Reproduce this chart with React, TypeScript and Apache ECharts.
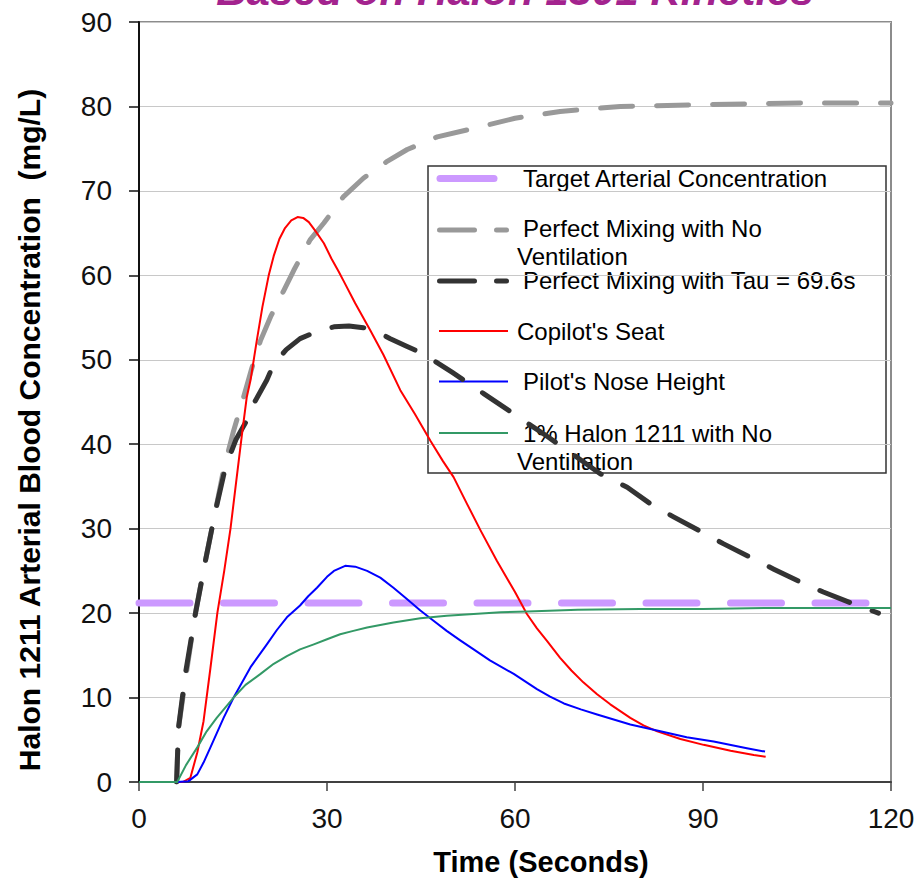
import React, { useEffect, useRef } from "react";
import * as echarts from "echarts";

// ---- data (time in seconds, concentration in mg/L) ----
const xTicks = [0, 30, 60, 90, 120];
const seriesNames = [
  "Target Arterial Concentration",
  "Perfect Mixing with No Ventilation",
  "Perfect Mixing with Tau = 69.6s",
  "Copilot's Seat",
  "Pilot's Nose Height",
  "1% Halon 1211 with No Ventillation",
];

const targetLevel: number[][] = [
  [0, 21.2],
  [120, 21.2],
];

const noVentilation: number[][] = [
  [6, 0], [6.3, 6.4], [7.7, 13.6], [9, 20], [10.6, 26.2], [12.2, 32.1], [13.5, 37],
  [15.1, 41.6], [16.7, 45.6], [18, 49], [19.4, 52.3], [21, 55.1], [23.1, 58.2], [24.7, 60.6],
  [27.3, 64.2], [29.5, 66.2], [32.6, 69.3], [35.8, 71.5], [39.6, 73.5], [42.8, 74.9],
  [47.6, 76.4], [54.5, 77.6], [60, 78.6], [67.2, 79.4], [76.8, 80.0], [89.6, 80.2],
  [105.6, 80.4], [120, 80.4],
];

const tauMixing: number[][] = [
  [6, 0], [6.3, 6.4], [7.4, 12.8], [9, 19.9], [10.6, 26.2], [12.2, 32.1], [13.8, 37.3],
  [15.5, 40.6], [17.5, 43.2], [18.3, 44.8], [20.4, 47.6], [21.5, 49.5], [23.5, 51.2],
  [25.7, 52.5], [28.5, 53.4], [31.1, 53.9], [33.5, 54], [35.8, 53.8], [38, 53.3],
  [40.1, 52.5], [42.7, 51.6], [45.4, 50.7], [50, 48.5], [55, 46], [60, 43.5], [65, 41],
  [70, 38.4], [73.6, 36.5], [77.9, 34.9], [81.5, 33], [85.3, 31.4], [89.3, 29.8],
  [93.3, 28.2], [97.3, 26.7], [101.3, 25.2], [105.2, 23.8], [109.2, 22.5], [113.6, 21.2],
  [118, 20],
];

const copilotSeat: number[][] = [
  [0, 0], [7, 0], [8.2, 0.5], [9.3, 3.5], [10.3, 7.2], [11.4, 13.5], [12.5, 20],
  [13.6, 25], [14.6, 30], [15.5, 35.5], [16.4, 41], [17.2, 45.6], [17.8, 47.6],
  [18.8, 52.3], [19.7, 56.3], [20.7, 60], [21.5, 62.3], [22.4, 64.3], [23.3, 65.6],
  [24.3, 66.5], [25.3, 66.9], [26.2, 66.8], [27.1, 66.3], [28.2, 65.2], [29.5, 63.8],
  [30.7, 62], [31.9, 60.4], [32.6, 59.4], [34.5, 56.7], [36.9, 53.5],
  [39, 50.6], [41.7, 46.4], [44, 43.6], [46.5, 40.4], [48.5, 38], [50.2, 36.1],
  [52.3, 33], [54.5, 29.8], [57.1, 26.2], [60, 22.5], [61.9, 19.9], [63.5, 18.2],
  [65.1, 16.7], [67.2, 14.7], [69, 13.2], [70.9, 11.8], [73.1, 10.4], [75.2, 9.2],
  [78.4, 7.6], [80.5, 6.7], [82.7, 6.0], [86.4, 5.1], [90.1, 4.4], [94.4, 3.7],
  [98.1, 3.2], [100, 3.0],
];

const pilotNose: number[][] = [
  [0, 0], [6.1, 0], [7.9, 0.1], [9.3, 0.9], [10.3, 2.3], [11.4, 4.1], [13.5, 7.6],
  [15.1, 10], [17.8, 13.6], [20.4, 16.3], [22, 18], [23.6, 19.5], [25.7, 20.9],
  [27, 22], [28.4, 23], [30, 24.3], [31.1, 25], [32.9, 25.6], [34.5, 25.5], [36.4, 25],
  [38.5, 24.2], [40.6, 23], [42.7, 21.7], [44.9, 20.3], [47, 19.1], [49.1, 17.9],
  [51.2, 16.8], [53.4, 15.7], [56, 14.4], [59.8, 12.8], [63.5, 11], [65.6, 10.1], [67.8, 9.3],
  [70.5, 8.6], [73.1, 8.0], [78.4, 6.8], [83.2, 6.0], [87.4, 5.3], [91.7, 4.8],
  [97, 4.0], [99.9, 3.6],
];

const halonNoVent: number[][] = [
  [0, 0], [6.1, 0], [7.5, 2], [9.3, 4.1], [10.8, 6], [12.4, 7.6], [15.1, 10], [17, 11.5],
  [19.4, 12.8], [21.5, 14], [23.6, 14.9], [25.7, 15.7], [27.9, 16.3], [30, 16.9],
  [32.1, 17.5], [34.2, 17.9], [36.4, 18.3], [40.6, 18.9], [44.9, 19.4], [49.1, 19.7],
  [53.4, 19.9], [57.7, 20.1], [62, 20.2], [70, 20.4], [80, 20.5], [90, 20.5],
  [100, 20.6], [110, 20.6], [120, 20.6],
];

const FONT = "'Liberation Sans', Arial, sans-serif";

export default function App() {
  const ref = useRef<HTMLDivElement>(null);

  useEffect(() => {
    if (!ref.current) return;
    const chart = echarts.init(ref.current, null, { renderer: "svg" });

    const legendX = 428;
    const legendY = 166;
    const rowY = [178.5, 228.5, 280, 331, 381.5, 433];
    const lineStart = 439;
    const lineEnd = 508;

    const legendItems: any[] = [
      {
        type: "rect",
        shape: { x: legendX, y: legendY, width: 458, height: 307 },
        style: { fill: "#fff", stroke: "#333", lineWidth: 1.5 },
      },
      {
        type: "line",
        shape: { x1: 440, y1: rowY[0], x2: 494, y2: rowY[0] },
        style: { stroke: "#CC99FF", lineWidth: 7, lineCap: "round" },
      },
      {
        type: "line",
        shape: { x1: 439.5, y1: rowY[1] + 1.5, x2: 474.5, y2: rowY[1] + 1.5 },
        style: { stroke: "#999999", lineWidth: 5, lineCap: "round" },
      },
      {
        type: "line",
        shape: { x1: 496.5, y1: rowY[1] + 1.5, x2: 506.5, y2: rowY[1] + 1.5 },
        style: { stroke: "#999999", lineWidth: 5, lineCap: "round" },
      },
      {
        type: "line",
        shape: { x1: 439.5, y1: rowY[2] + 1, x2: 474.5, y2: rowY[2] + 1 },
        style: { stroke: "#333333", lineWidth: 5, lineCap: "round" },
      },
      {
        type: "line",
        shape: { x1: 496.5, y1: rowY[2] + 1, x2: 506.5, y2: rowY[2] + 1 },
        style: { stroke: "#333333", lineWidth: 5, lineCap: "round" },
      },
      {
        type: "line",
        shape: { x1: lineStart, y1: rowY[3], x2: lineEnd, y2: rowY[3] },
        style: { stroke: "#FF0000", lineWidth: 2 },
      },
      {
        type: "line",
        shape: { x1: lineStart, y1: rowY[4], x2: lineEnd, y2: rowY[4] },
        style: { stroke: "#0000FF", lineWidth: 2 },
      },
      {
        type: "line",
        shape: { x1: lineStart, y1: rowY[5], x2: lineEnd, y2: rowY[5] },
        style: { stroke: "#339966", lineWidth: 2 },
      },
    ];

    const legendTexts: [string, number, number][] = [
      ["Target Arterial Concentration", 523, rowY[0]],
      ["Perfect Mixing with No", 523, rowY[1] - 0.5],
      ["Ventilation", 517, rowY[1] + 28],
      ["Perfect Mixing with Tau = 69.6s", 523, rowY[2]],
      ["Copilot's Seat", 517, rowY[3]],
      ["Pilot's Nose Height", 523, rowY[4]],
      ["1% Halon 1211 with No", 523, rowY[5]],
      ["Ventillation", 517, rowY[5] + 28.5],
    ];
    legendTexts.forEach(([t, x, y]) => {
      legendItems.push({
        type: "text",
        x,
        y,
        style: {
          text: t,
          fill: "#000",
          font: `24px ${FONT}`,
          align: "left",
          verticalAlign: "middle",
        },
      });
    });

    const mkLine = (name: string, data: number[][], color: string, width: number, dash?: number[]) => ({
      name,
      type: "line",
      data,
      showSymbol: false,
      symbol: "none",
      smooth: false,
      lineStyle: {
        color,
        width,
        type: dash ? dash : "solid",
        cap: dash ? "round" : "butt",
        join: "round",
      },
      emphasis: { disabled: true },
    });

    chart.setOption({
      animation: false,
      backgroundColor: "#fff",
      grid: {
        left: 139,
        right: 27,
        top: 22,
        bottom: 97,
        show: true,
        borderColor: "#8c8c8c",
        borderWidth: 2,
        backgroundColor: "transparent",
      },
      xAxis: {
        type: "value",
        min: 0,
        max: 120,
        interval: 30,
        axisLine: { show: true, onZero: false, lineStyle: { color: "#404040", width: 2 } },
        axisTick: { show: true, inside: false, length: 9, lineStyle: { color: "#404040", width: 1.5 } },
        axisLabel: {
          fontSize: 28,
          color: "#111",
          fontFamily: FONT,
          margin: 22,
          formatter: (v: number) => (xTicks.includes(v) ? String(v) : ""),
        },
        splitLine: { show: false },
      },
      yAxis: {
        type: "value",
        min: 0,
        max: 90,
        interval: 10,
        axisLine: { show: true, onZero: false, lineStyle: { color: "#111", width: 2 } },
        axisTick: { show: true, inside: false, length: 10, lineStyle: { color: "#111", width: 1.5 } },
        axisLabel: { fontSize: 28, color: "#111", fontFamily: FONT, margin: 27 },
        splitLine: { show: true, lineStyle: { color: "#c8c8c8", width: 1.2 } },
      },
      series: [
        mkLine(seriesNames[0], targetLevel, "#CC99FF", 7, [51, 33.5]),
        mkLine(seriesNames[1], noVentilation, "#999999", 5, [32, 24]),
        mkLine(seriesNames[2], tauMixing, "#333333", 5, [32, 24]),
        mkLine(seriesNames[3], copilotSeat, "#FF0000", 2),
        mkLine(seriesNames[4], pilotNose, "#0000FF", 2),
        mkLine(seriesNames[5], halonNoVent, "#339966", 2),
      ],
      graphic: [
        {
          type: "text",
          x: 515,
          y: -10,
          z: 100,
          style: {
            text: "Based on Halon 1301 Kinetics",
            fill: "#A3238E",
            font: `italic bold 42px ${FONT}`,
            align: "center",
            verticalAlign: "middle",
          },
        },
        {
          type: "text",
          x: 29.6,
          y: 430,
          rotation: Math.PI / 2,
          z: 100,
          style: {
            text: "Halon 1211 Arterial Blood Concentration  (mg/L)",
            fill: "#000",
            font: `bold 30px ${FONT}`,
            align: "center",
            verticalAlign: "middle",
          },
        },
        {
          type: "text",
          x: 541,
          y: 862,
          z: 100,
          style: {
            text: "Time (Seconds)",
            fill: "#000",
            font: `bold 29px ${FONT}`,
            align: "center",
            verticalAlign: "middle",
          },
        },
        {
          type: "group",
          z: 100,
          children: legendItems,
        },
      ],
    });

    return () => {
      chart.dispose();
    };
  }, []);

  return <div ref={ref} style={{ width: 918, height: 879, position: "absolute", left: 0, top: 0 }} />;
}
